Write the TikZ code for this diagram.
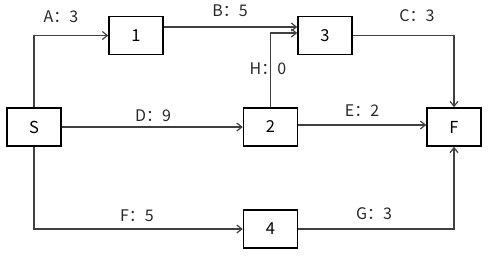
\documentclass[tikz,border=0pt]{standalone}
\usepackage{fontspec}
\setmainfont{Noto Sans CJK SC}
\usetikzlibrary{arrows.meta}
\definecolor{edgeline}{RGB}{64,64,64}
\definecolor{labeltext}{RGB}{40,40,40}

\begin{document}
\begin{tikzpicture}[
  x=1pt,y=-1pt,
  >={Straight Barb[length=5pt,width=8pt]},
  event/.style={rectangle,draw=black,line width=1.5pt,fill=white,
                minimum width=54pt,minimum height=38pt,inner sep=0pt,
                font=\fontsize{16.5}{19}\selectfont},
  act/.style={edgeline,line width=1.2pt,->},
  alabel/.style={font=\fontsize{16}{19}\selectfont,text=labeltext,inner sep=0pt}
]
\useasboundingbox (0,0) rectangle (489,258);

% Events of the network
\node[event] (S)  at (34,127)  {S};
\node[event] (n1) at (136,35.5) {1};
\node[event] (n3) at (325,35.5) {3};
\node[event] (n2) at (270.5,127) {2};
\node[event] (nF) at (454,127) {F};
\node[event] (n4) at (270.5,229) {4};

% Activities, each with its duration
\draw[act] (S.north) |- (n1.west);
\draw[act] ([yshift=8.5]n1.east) -- ([yshift=8.5]n3.west);
\draw[act] (n2.north) |- ([yshift=2.5]n3.west);
\draw[act] (n3.east) -| (nF.north);
\draw[act] (S.east) -- (n2.west);
\draw[act] ([yshift=2]n2.east) -- ([yshift=2]nF.west);
\draw[act] (S.south) |- (n4.west);
\draw[act] (n4.east) -| (nF.south);

\node[alabel] (lA) at (61,17)   {A：3};
\node[alabel] (lB) at (230,11)  {B：5};
\node[alabel] (lC) at (417,16)  {C：3};
\node[alabel] (lH) at (268,69)  {H：0};
\node[alabel] (lD) at (153,116) {D：9};
\node[alabel] (lE) at (362,111) {E：2};
\node[alabel] (lF) at (137,216) {F：5};
\node[alabel] (lG) at (374,214) {G：3};
\end{tikzpicture}
\end{document}
